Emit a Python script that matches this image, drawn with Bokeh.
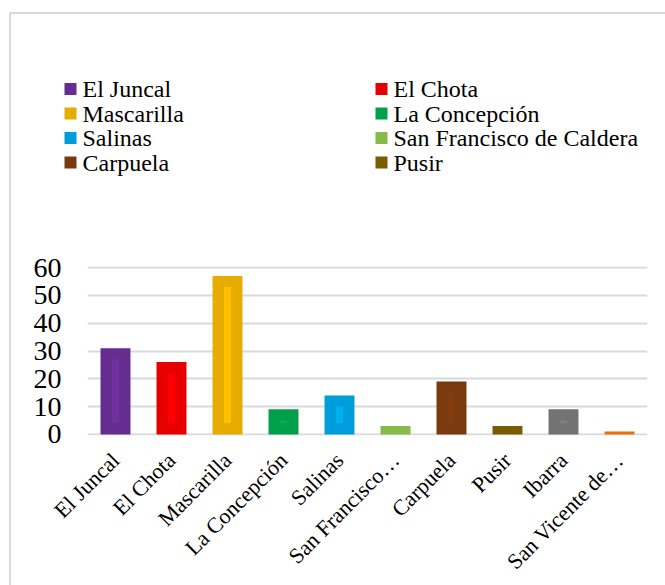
from bokeh.plotting import figure
from bokeh.layouts import column
from bokeh.models import (ColumnDataSource, Range1d, LinearAxis, FixedTicker, InlineStyleSheet, Label)
from bokeh.embed import file_html
from bokeh.resources import INLINE
import math

# ---- data ----
tick_labels = ["El Juncal", "El Chota", "Mascarilla", "La Concepción", "Salinas",
               "San Francisco…", "Carpuela", "Pusir", "Ibarra", "San Vicente de…"]
legend_labels = ["El Juncal", "El Chota", "Mascarilla", "La Concepción", "Salinas",
                 "San Francisco de Caldera", "Carpuela", "Pusir"]
values = [31, 26, 57, 9, 14, 3, 19, 3, 9, 1]
y_ticks = [0, 10, 20, 30, 40, 50, 60]

bar_colors = ["#662D91", "#E60000", "#E6AC00", "#00A04A", "#009DDB",
              "#86BB4A", "#7A3A10", "#7A5C00", "#737373", "#E8700F"]
shine_colors = ["#7030A0", "#FF0000", "#FFC000", "#00B050", "#00B0F0",
                "#92D050", "#843C0C", "#7F6000", "#7F7F7F", "#F47A20"]

# ---- style ----
FONT = "Liberation Serif"
SHINE_INSET = 4          # data units, inner highlight inset
W = 665
LEG_H = 230              # height of the legend strip
LEG_X0, LEG_COL_W = 70, 311
LEG_Y0, LEG_ROW_H = 88.5, 24.5
LEG_SWATCH = 12
LEG_GAP = 12

n = len(tick_labels)
idx = list(range(n))

# ---------------- legend strip ----------------
m = len(legend_labels)
cols = [i % 2 for i in range(m)]
rows = [i // 2 for i in range(m)]
sx = [LEG_X0 + c * LEG_COL_W for c in cols]
tx = [LEG_X0 + c * LEG_COL_W + LEG_GAP for c in cols]
ly = [LEG_Y0 + r * LEG_ROW_H for r in rows]
leg_src = ColumnDataSource(dict(sx=sx, y=ly, color=bar_colors[:m]))

top = figure(width=W, height=LEG_H, output_backend="svg", toolbar_location=None,
             x_range=Range1d(0, W), y_range=Range1d(LEG_H, 0),
             x_axis_location=None, y_axis_location=None,
             min_border=0)
top.outline_line_color = None
top.grid.visible = False
top.rect(x="sx", y="y", width=LEG_SWATCH, height=LEG_SWATCH,
         width_units="screen", height_units="screen",
         source=leg_src, fill_color="color", line_color=None)
for x, y, lab in zip(tx, ly, legend_labels):
    top.add_layout(Label(x=x, y=y, text=lab, text_font=FONT, text_font_size="24px",
                         text_baseline="middle", text_align="left", text_color="black"))

# ---------------- bar chart ----------------
src = ColumnDataSource(dict(x=idx, top=values, color=bar_colors))
sh_x, sh_bottom, sh_top, sh_color = [], [], [], []
for i, v, col in zip(idx, values, shine_colors):
    if v > 2 * SHINE_INSET:
        sh_x.append(i)
        sh_bottom.append(SHINE_INSET)
        sh_top.append(v - SHINE_INSET)
        sh_color.append(col)
shine_src = ColumnDataSource(dict(x=sh_x, bottom=sh_bottom, top=sh_top, color=sh_color))

p = figure(width=W, height=585 - LEG_H, output_backend="svg", toolbar_location=None,
           x_range=Range1d(-0.5, n - 0.5), y_range=Range1d(-0.4, 60.4),
           x_axis_location=None,
           min_border_left=87, min_border_right=18, min_border_top=36, min_border_bottom=149)
p.outline_line_color = None

# keep the two figures' frames independent (legend strip spans the full width)
if "frame_align" in top.properties():
    top.frame_align = False
    p.frame_align = False

p.vbar(x="x", top="top", bottom=0, width=0.535, source=src,
       fill_color="color", line_color=None)
p.vbar(x="x", top="top", bottom="bottom", width=0.125, source=shine_src,
       fill_color="color", line_color=None)

p.xgrid.grid_line_color = None
p.ygrid.grid_line_color = "#d9d9d9"
p.ygrid.grid_line_width = 2
p.ygrid.ticker = FixedTicker(ticks=y_ticks)
p.yaxis.ticker = FixedTicker(ticks=y_ticks)
p.yaxis.axis_line_color = None
p.yaxis.major_tick_line_color = None
p.yaxis.minor_tick_line_color = None
p.yaxis.major_tick_out = 0
p.yaxis.major_label_standoff = 26
p.yaxis.major_label_text_font = FONT
p.yaxis.major_label_text_font_size = "28px"
p.yaxis.major_label_text_color = "black"

xlab = LinearAxis(ticker=FixedTicker(ticks=idx),
                  major_label_overrides={i: t for i, t in zip(idx, tick_labels)})
xlab.axis_line_color = None
xlab.major_tick_line_color = None
xlab.minor_tick_line_color = None
xlab.major_tick_out = 0
xlab.minor_tick_out = 0
xlab.major_label_orientation = math.pi / 4
xlab.major_label_standoff = 21
xlab.major_label_text_font = FONT
xlab.major_label_text_font_size = "22px"
xlab.major_label_text_color = "black"
p.add_layout(xlab, "below")

css = InlineStyleSheet(css="""
:host::after {
  content: "";
  position: absolute;
  left: 9px; top: 12px; width: 700px; height: 700px;
  border: 2px solid #d9d9d9;
  pointer-events: none;
  box-sizing: border-box;
}
""")
layout = column(top, p, spacing=0, stylesheets=[css])

open("out.html", "w").write(file_html(layout, INLINE))
